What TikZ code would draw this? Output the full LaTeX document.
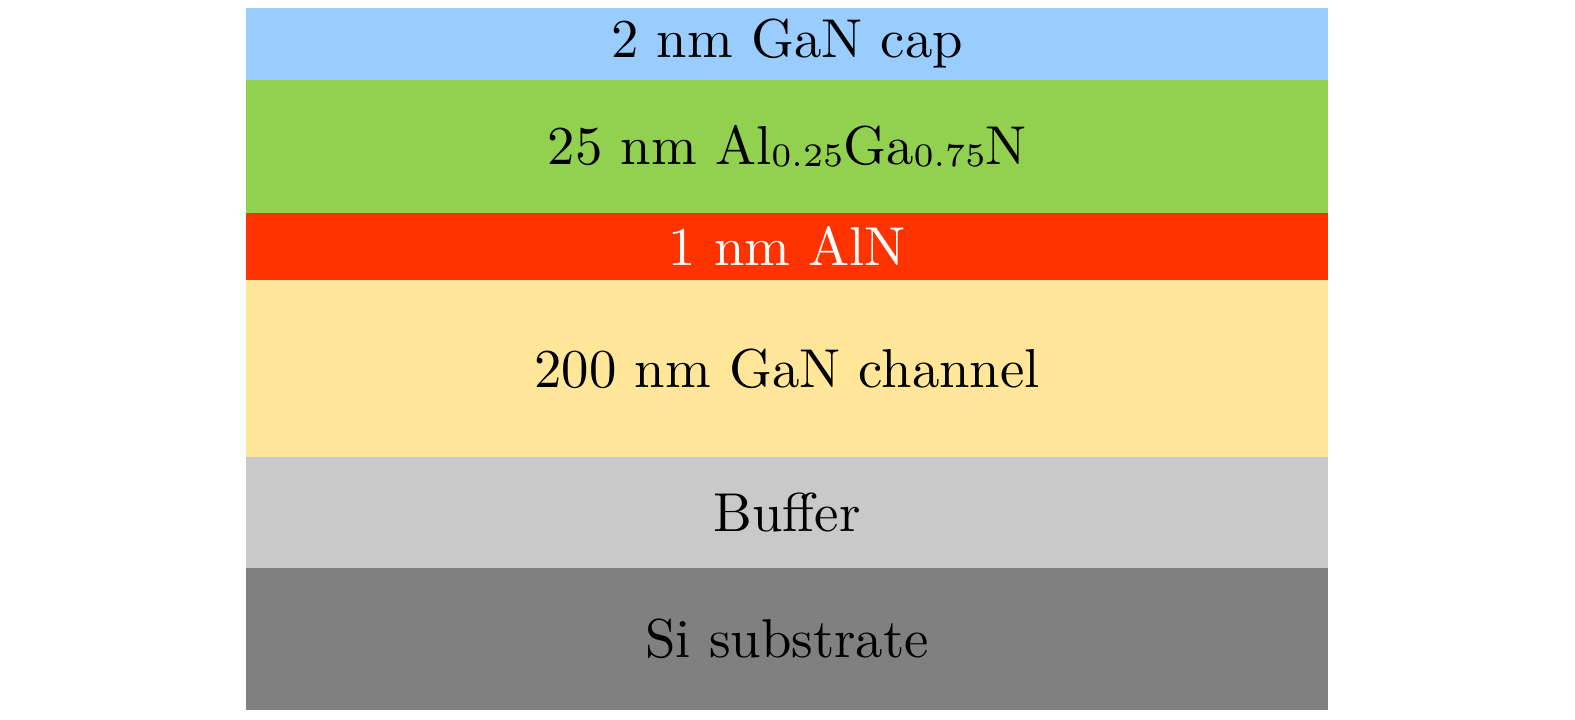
\documentclass[tikz,border=0pt]{standalone}
\usepackage{amsmath}
\usepackage{tikz}
\usetikzlibrary{positioning}

\definecolor{capblue}{HTML}{99CCFF}
\definecolor{algangreen}{HTML}{92D050}
\definecolor{alnred}{HTML}{FF3300}
\definecolor{ganyellow}{HTML}{FFE699}
\definecolor{buffergray}{HTML}{C9C9C9}
\definecolor{sigray}{HTML}{808080}

\newcommand{\molsub}[1]{\raisebox{-0.5pt}{\fontsize{6}{7}\selectfont #1}}

\begin{document}
\begin{tikzpicture}[x=0.1826pt,y=-0.1826pt,
    layer/.style={rectangle, draw=none, inner sep=0pt, outer sep=0pt,
      minimum width=197.6pt, align=center, font=\normalsize}]
    \useasboundingbox (0,0) rectangle (1575,719);
    \node[layer, anchor=north west, fill=capblue, minimum height=13.04pt] (cap) at (246,8.3) {2 nm GaN cap};
    \node[layer, below=0pt of cap, fill=algangreen, minimum height=24.29pt] (algan) {25 nm Al\molsub{0.25}Ga\molsub{0.75}N};
    \node[layer, below=0pt of algan, fill=alnred, text=white, minimum height=12.29pt] (aln) {1 nm AlN};
    \node[layer, below=0pt of aln, fill=ganyellow, minimum height=32.27pt] (channel) {200 nm GaN channel};
    \node[layer, below=0pt of channel, fill=buffergray, minimum height=20.27pt] (buffer) {Buffer};
    \node[layer, below=0pt of buffer, fill=sigray, minimum height=25.98pt] (substrate) {Si substrate};
\end{tikzpicture}
\end{document}
